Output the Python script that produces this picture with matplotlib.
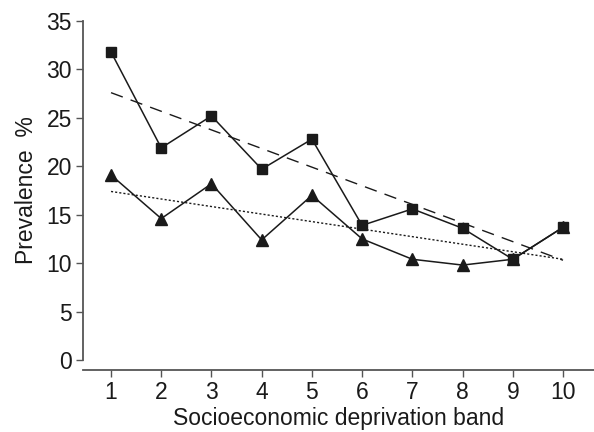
import matplotlib
matplotlib.use("Agg")
import matplotlib.pyplot as plt
import numpy as np

plt.rcParams['font.family'] = ['Liberation Sans Narrow', 'Liberation Sans', 'DejaVu Sans']

# data
band = [1, 2, 3, 4, 5, 6, 7, 8, 9, 10]
squares = [31.8, 21.9, 25.2, 19.7, 22.8, 13.9, 15.6, 13.6, 10.4, 13.7]
triangles = [19.1, 14.6, 18.2, 12.4, 17.0, 12.5, 10.4, 9.8, 10.4, 13.7]
trend_x = [1, 10]
trend_sq = [27.6, 10.3]
trend_tri = [17.4, 10.4]

fig = plt.figure(figsize=(5.94, 4.32), dpi=100)
ax = fig.add_axes([83/594, 1-360/432, 1-83/594, (360-21)/432])

ax.plot(band, squares, color='#1a1a1a', lw=1.1, marker='s', ms=7.5)
ax.plot(band, triangles, color='#1a1a1a', lw=1.1, marker='^', ms=8)
ax.plot(trend_x, trend_sq, color='#1a1a1a', lw=1.0, ls=(0, (9, 6)))
ax.plot(trend_x, trend_tri, color='#1a1a1a', lw=1.0, ls=(0, (1.5, 1.5)))

ax.set_xlim(0.442, 10.617)
ax.set_ylim(0, 35)
ax.set_xticks(band)
ax.set_yticks(np.arange(0, 36, 5))

for s in ['top', 'right']:
    ax.spines[s].set_visible(False)
for s in ['left', 'bottom']:
    ax.spines[s].set_color('#555555')
    ax.spines[s].set_linewidth(1.3)
ax.spines['bottom'].set_position(('outward', 7))
ax.tick_params(axis='both', color='#555555', width=1.0, length=5,
               labelsize=16.5, labelcolor='#1a1a1a', pad=3)

ax.set_xlabel('Socioeconomic deprivation band', fontsize=16.5, color='#1a1a1a', labelpad=2)
ax.set_ylabel('Prevalence  %', fontsize=16.5, color='#1a1a1a', labelpad=6)

fig.savefig('out.png', dpi=100)
